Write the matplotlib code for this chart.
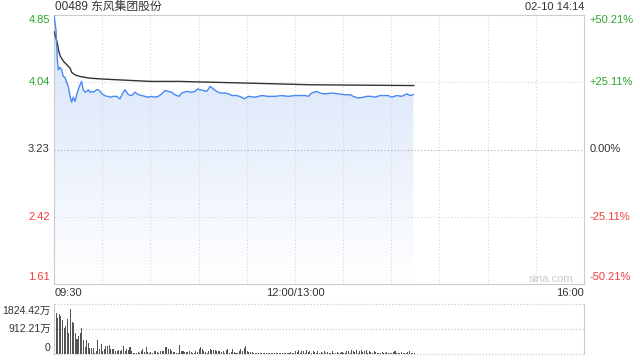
import numpy as np
import matplotlib
matplotlib.use("Agg")
import matplotlib.pyplot as plt
from matplotlib.colors import LinearSegmentedColormap
from matplotlib.patches import Polygon
import matplotlib.transforms as mtransforms

plt.rcParams['font.family'] = ['Liberation Sans', 'Noto Sans CJK SC', 'DejaVu Sans']

# ---------------- data ----------------
title = "00489 东风集团股份"
stamp = "02-10 14:14"
prev_close = 3.23
price_ticks = [1.61, 2.42, 3.23, 4.04, 4.85]
pct_labels = ["-50.21%", "-25.11%", "0.00%", "+25.11%", "+50.21%"]
time_labels = ["09:30", "12:00/13:00", "16:00"]
vol_ticks = [0, 912.21, 1824.42]
vol_labels = ["0", "912.21万", "1824.42万"]

# minutes since 09:30 (lunch break removed) and price
price_t = [0, 1.2, 2.1, 2.7, 3.7, 4.8, 5.8, 6.8, 7.9, 8.9,
           10.0, 11.0, 12.0, 13.1, 14.1, 15.1, 16.2, 17.2, 18.2, 19.3,
           20.4, 21.4, 22.4, 23.5, 24.5, 26.6, 27.6, 28.6, 30.5, 32.8,
           33.8, 34.9, 36.9, 39.0, 41.1, 43.1, 44.2, 46.3, 48.4, 50.4,
           52.5, 54.6, 56.7, 58.7, 60.8, 62.9, 64.9, 67.1, 69.1, 71.2,
           73.3, 75.3, 77.8, 79.5, 82.6, 85.7, 87.8, 89.5, 90.9, 93.0,
           95.1, 97.2, 99.2, 101.3, 103.4, 106.5, 109.0, 110.6, 113.7, 116.9,
           118.5, 121.0, 125.1, 129.3, 133.4, 137.6, 141.8, 145.9, 150.0, 156.3,
           158.3, 160.4, 163.6, 165.6, 168.7, 172.9, 177.0, 181.2, 184.3, 186.3,
           189.5, 192.6, 194.7, 197.8, 199.9, 203.0, 206.1, 208.1, 210.3, 213.4,
           216.5, 219.6, 221.6, 223.7]
price_v = [4.85, 4.68, 4.31, 4.19, 4.22, 4.19, 4.11, 4.10, 4.04, 3.99,
           3.87, 3.80, 3.86, 3.81, 3.89, 3.95, 4.01, 4.05, 3.95, 3.92,
           3.93, 3.95, 3.92, 3.93, 3.92, 3.95, 3.95, 3.93, 3.89, 3.87,
           3.87, 3.86, 3.87, 3.87, 3.84, 3.92, 3.95, 3.89, 3.88, 3.92,
           3.89, 3.88, 3.87, 3.86, 3.87, 3.86, 3.87, 3.90, 3.94, 3.93,
           3.92, 3.89, 3.87, 3.91, 3.93, 3.92, 3.93, 3.96, 3.95, 3.94,
           3.93, 3.99, 3.96, 3.93, 3.91, 3.91, 3.90, 3.88, 3.88, 3.86,
           3.84, 3.87, 3.86, 3.88, 3.87, 3.87, 3.88, 3.87, 3.88, 3.88,
           3.87, 3.91, 3.93, 3.91, 3.90, 3.91, 3.90, 3.89, 3.89, 3.87,
           3.85, 3.86, 3.87, 3.87, 3.86, 3.88, 3.88, 3.88, 3.86, 3.88,
           3.87, 3.90, 3.88, 3.89]

avg_t = [0, 2, 3, 4, 6, 8, 10, 11, 13, 16, 22, 29, 39, 60, 78, 120, 159, 224]
avg_v = [4.65, 4.52, 4.41, 4.35, 4.29, 4.25, 4.21, 4.16, 4.13, 4.11, 4.09, 4.08,
         4.07, 4.05, 4.05, 4.03, 4.01, 4.00]

# volume per minute (万)
vol = [1824, 1514, 1328, 1452, 1390, 1241, 955, 1017, 1266, 769,
       1638, 1166, 1117, 769, 546, 670, 769, 955, 521, 273,
       496, 397, 211, 211, 211, 50, 124, 521, 174, 372,
       124, 174, 298, 298, 335, 174, 174, 174, 124, 124,
       149, 124, 149, 298, 124, 174, 149, 273, 124, 50,
       50, 25, 74,
       50, 98, 197, 74, 271, 74, 49, 74, 49, 98, 123, 74, 49, 98, 123, 98, 271, 246, 172, 197,
       98, 74, 74, 49, 49, 345, 123, 98, 74, 74, 74, 98, 74, 49, 49, 123, 74, 197, 246, 172,
       98, 74, 49, 98, 172, 148, 148, 148, 123, 123, 98, 74, 98, 49, 148, 172, 49, 74, 172, 74,
       49, 49, 98, 197, 98, 221, 296, 98, 74, 74, 74, 49, 49, 25, 25, 25, 25, 49, 25, 25,
       25, 25, 25, 49, 25, 49, 25, 25,
       25, 49, 25, 49, 25, 49, 74, 49, 25,
       123, 74, 148, 49, 123, 98, 49, 148, 74, 98, 49, 123, 74,
       49, 98, 25, 74, 49, 98, 49, 74, 25, 49, 98, 25, 49, 74, 25, 49, 74, 25, 49, 98,
       123, 49, 148, 98, 74, 148, 49, 123, 148, 74, 98, 148, 49, 123, 74, 49, 98, 74,
       49, 25, 49, 74, 25, 49, 74, 49, 25, 49, 74, 98, 49, 25, 49, 74, 49, 25, 49, 74, 98, 49, 25, 49]

# ---------------- styles ----------------
GREEN = '#2aa52a'
RED = '#f03c3c'
DARK = '#333333'
GRID = '#cccccc'
VGRID = '#d6d6d6'
FS = 8

fig = plt.figure(figsize=(6.4, 3.6), dpi=100)
W, H = 640, 360

def fx(px):
    return px / W

def fy(py):
    return 1 - py / H

L, R = 54, 584
ax = fig.add_axes([fx(L), fy(284), fx(R) - fx(L), fy(15) - fy(284)])
axv = fig.add_axes([fx(L), fy(354), fx(R) - fx(L), fy(304) - fy(354)])

# ---- main price panel ----
ax.set_xlim(0, 330)
ax.set_ylim(price_ticks[0], price_ticks[-1])
ax.set_xticks([])
ax.set_yticks([])
for s in ax.spines.values():
    s.set_color(GRID)
    s.set_linewidth(0.8)

# gradient fill under price
cmap = LinearSegmentedColormap.from_list('fillc', ['#ffffff', '#d4e2f9'])
grad = np.linspace(0, 1, 256).reshape(-1, 1)
im = ax.imshow(grad, cmap=cmap, origin='lower', aspect='auto',
               extent=[0, 330, price_ticks[0], price_ticks[-1]], zorder=1)
poly_pts = list(zip(price_t, price_v)) + [(price_t[-1], price_ticks[0]), (price_t[0], price_ticks[0])]
poly = Polygon(poly_pts, closed=True, facecolor='none', edgecolor='none', transform=ax.transData)
ax.add_patch(poly)
im.set_clip_path(poly)

# grid
for t in range(30, 330, 30):
    ax.axvline(t, color=VGRID, lw=0.8, ls=(0, (1, 2)), zorder=2)
for p in [2.42, 4.04]:
    ax.axhline(p, color=VGRID, lw=0.8, ls=(0, (1, 2)), zorder=2)
ax.axhline(prev_close, color='#aaaaaa', lw=0.8, ls=(0, (1, 2)), zorder=2)

ax.plot(price_t, price_v, color='#4a89f3', lw=1.0, zorder=4)
ax.plot(avg_t, avg_v, color='#333333', lw=1.0, zorder=3)

# y labels
ytr = mtransforms.blended_transform_factory(ax.transAxes, ax.transData)
colors = [RED, RED, DARK, GREEN, GREEN]
for i, (p, lab, c) in enumerate(zip(price_ticks, pct_labels, colors)):
    off = 0
    if i == 0:
        off = 0.09
    elif i == len(price_ticks) - 1:
        off = -0.06
    ax.text(-0.008, p + off, f"{p:.2f}", transform=ytr, ha='right', va='center',
            color=c, fontsize=FS)
    ax.text(1.011, p + off, lab, transform=ytr, ha='left', va='center',
            color=c, fontsize=FS)

# watermark
fig.text(fx(573), fy(279), "sina.com", ha='right', va='center', color='#c8c8c8', fontsize=8)

# title and timestamp
fig.text(fx(55), fy(7), title, ha='left', va='center', color=DARK, fontsize=8.5)
fig.text(fx(584), fy(7), stamp, ha='right', va='center', color=DARK, fontsize=FS)

# time labels
fig.text(fx(55), fy(293.5), time_labels[0], ha='left', va='center', color=DARK, fontsize=FS)
fig.text(fx(295), fy(293.5), time_labels[1], ha='center', va='center', color=DARK, fontsize=FS)
fig.text(fx(584), fy(293.5), time_labels[2], ha='right', va='center', color=DARK, fontsize=FS)

# ---- volume panel ----
axv.set_xlim(0, 330)
axv.set_ylim(0, vol_ticks[-1])
axv.set_xticks([])
axv.set_yticks([])
for k in ['top', 'bottom']:
    axv.spines[k].set_visible(False)
for k in ['left', 'right']:
    axv.spines[k].set_color(GRID)
    axv.spines[k].set_linewidth(0.8)
for v in vol_ticks:
    axv.axhline(v, color=GRID, lw=0.9, ls=(0, (1, 1.5)), zorder=1, clip_on=False)
axv.bar(np.arange(len(vol)), vol, width=0.65, align='edge', color='#555555', lw=0, zorder=2)

vtr = mtransforms.blended_transform_factory(axv.transAxes, axv.transData)
voffs = [210, 0, -270]
for v, lab, o in zip(vol_ticks, vol_labels, voffs):
    axv.text(-0.006, v + o, lab, transform=vtr, ha='right', va='center', color=DARK, fontsize=7.5)

fig.savefig("out.png", dpi=100)
